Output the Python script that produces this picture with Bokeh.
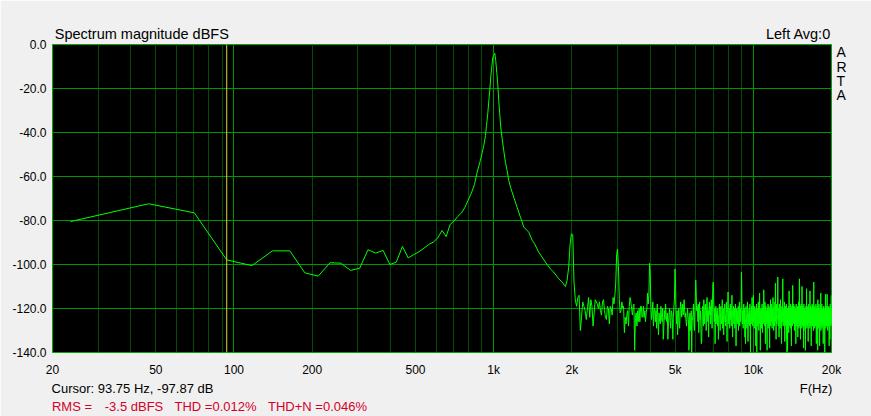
from bokeh.plotting import figure
from bokeh.models import (FixedTicker, Grid, Span, NumeralTickFormatter, LinearAxis,
                          Range1d, LinearScale, CustomJSTickFormatter, ColumnDataSource)
from bokeh.embed import file_html
from bokeh.resources import INLINE

# ---------------- data ----------------
# low / mid part of the spectrum (Hz, dBFS)
main_freq = [23.44, 46.88, 70.31, 93.75, 117.19, 140.63, 164.06, 187.5, 210.94, 234.38,
             257.81, 281.25, 304.69, 328.13, 351.56, 375.0, 398.44, 421.88, 445.31, 468.75,
             492.19, 515.63, 539.06, 562.5, 585.94, 609.38, 632.81, 656.25, 679.69, 703.13,
             726.56, 750.0, 773.44, 796.88, 820.31, 843.75,
             864, 889, 903, 916, 930, 938.5, 949, 957, 966, 974.6,
             983.4, 992, 1001, 1010, 1018.6, 1027.7, 1036.9, 1046, 1055.5, 1064.7,
             1078, 1093.5, 1110, 1127, 1143, 1160.6, 1195, 1231, 1268, 1306,
             1365, 1407, 1436, 1491, 1582, 1654, 1704, 1781, 1835, 1890,
             1917, 1945, 1969, 1992, 2016]
main_db = [-80.5, -72.4, -76.5, -97.9, -100.5, -93.8, -93.8, -103.8, -105.3, -99.2,
           -99.4, -102.7, -101.7, -93.3, -94.8, -93.6, -100.0, -98.9, -91.8, -97.0,
           -95.5, -94.2, -92.6, -90.9, -89.8, -87.9, -84.5, -87.3, -81.8, -80.3,
           -78.2, -76.7, -74.2, -70.9, -67.6, -63.6,
           -58, -52.7, -49.2, -45.9, -41.4, -36.8, -31.5, -26.2, -20.9, -14.8,
           -10.3, -5.8, -5.0, -4.0, -7.3, -12.6, -17.9, -25.5, -31.5, -37.6,
           -42.8, -48.2, -53.5, -57.3, -61.8, -64.8, -69.4, -74, -78.5, -83,
           -85.3, -89, -90.5, -94.4, -98.9, -102, -103.5, -106.5, -108, -110,
           -107.3, -101.2, -91, -86, -86.5]

# FFT bins above 2 kHz (noise floor with harmonics)
bin_hz = 23.4375
noise_first_bin = 87
noise_db = [
    -108, -116, -119,
    -115, -114, -130, -124, -117, -119, -121, -125, -120, -115,   # 90
    -124, -116, -119, -128, -122, -116, -117, -118, -120, -117,   # 100
    -121, -123, -117, -116, -121, -124, -125, -119, -120, -127,   # 110
    -119, -120, -123, -115, -118, -114, -108, -95, -93, -101,     # 120
    -116, -122, -121, -117, -120, -119, -131, -124, -127, -123,   # 130
    -121, -128, -119, -115, -117, -120, -123, -119, -118, -139,   # 140
    -124, -122, -128, -121, -126, -120, -126, -119, -119, -124,   # 150
    -123, -119, -124, -121, -126, -122, -120, -113, -118, -114,   # 160
    -99.5, -104, -119, -125, -122, -117, -128, -121, -120, -126,  # 170
    -121, -129, -118, -124, -132, -122, -126, -127, -119, -124,   # 180
    -126, -120, -134, -128, -121, -125, -118, -123, -126, -122,   # 190
    -134, -127, -123, -120, -126, -129, -121, -122, -125, -134,   # 200
    -124, -119, -116, -102, -108, -122, -127, -121, -132, -125,   # 210
    -120, -127, -129, -121, -117, -119, -124, -121, -118, -123,   # 220
    -119, -116, -121, -124, -122, -126, -128, -124, -120, -123,   # 230
    -125, -139, -131, -122, -128, -130, -121, -140, -126, -124,   # 240
    -123, -118, -127, -130, -121, -115, -107, -112, -121, -119,   # 250
    -120, -126, -118, -131, -122, -117, -125, -121, -129, -136,   # 260
    -135, -123, -119, -124, -128, -116, -121, -127, -120, -118,   # 270
    -124, -130, -119, -115, -122, -126, -121, -133, -120, -117,   # 280
    -123, -119, -127, -121, -116, -124, -129, -118, -109, -108,   # 290
    -113, -122, -126, -120, -136, -124, -119, -127, -122, -125,   # 300
    -120, -128, -123, -134, -126, -121, -118, -125, -130, -122,   # 310
    -119, -124, -127, -121, -116, -129, -123, -120, -132, -125,   # 320
    -121, -118, -126, -123, -128, -120, -117, -124, -135, -122,   # 330
    -119, -112.5, -121, -127, -124, -120, -129, -123, -118, -125, # 340
    -122, -128, -120, -114, -126, -133, -121, -124, -119, -127,   # 350
    -123, -120, -129, -125, -118, -122, -137, -124, -120, -126,   # 360
    -121, -127, -123, -119, -130, -125, -122, -117, -128, -124,   # 370
    -120, -126, -122, -118, -103.5, -109, -123, -127, -121, -125, # 380
    -129, -122, -118, -124, -127, -120, -133, -125, -136, -122,   # 390
    -119, -126, -123, -129, -121, -117, -125, -135, -122, -127,   # 400
    -124, -120, -128, -122, -118, -126, -140, -123, -121, -127,   # 410
    -119, -125, -115, -122, -128, -124, -120, -114, -126, -122,   # 420
    -129, -123, -119, -125, -121, -127, -137, -120, -124, -118,   # 430
    -140, -126, -122, -120, -128, -124, -117, -123, -130, -121,   # 440
    -125, -113, -127, -122, -139, -124, -120, -126, -121, -129,   # 450
    -123, -118, -125, -131, -120, -124, -127, -122, -111.5, -119, # 460
    -126, -121, -128, -117, -124, -136, -122, -119, -125, -127,   # 470
    -121, -124, -139, -120, -126, -123, -118, -129, -122, -125,   # 480
    -119, -127, -123, -138, -120, -125, -121, -116, -128, -124,   # 490
    -122, -118, -126, -121, -129, -124, -120, -127, -115, -123,   # 500
    -125, -130, -121, -119, -124, -128, -122, -117, -126, -108.5, # 510
    -120, -124, -134, -122, -118, -127, -123, -125, -119, -121,   # 520
    -105.7, -122, -128, -124, -120, -126, -133, -121, -118, -125, # 530
    -123, -129, -120, -116, -125, -122, -127, -121, -136, -124,   # 540
    -119, -126, -122, -118, -106.5, -123, -128, -121, -125, -120, # 550
    -127, -122, -117, -124, -135, -121, -126, -119, -123, -128,   # 560
    -121, -125, -118, -134, -122, -140, -124, -120, -139, -126,   # 570
    -122, -127, -119, -124, -131, -121, -112, -125, -128, -123,   # 580
    -120, -126, -122, -129, -118, -124, -121, -127, -137, -120,   # 590
    -125, -119, -123, -128, -121, -109.5, -124, -120, -126, -122, # 600
    -118, -127, -123, -121, -130, -125, -119, -124, -128, -122,   # 610
    -120, -126, -136, -123, -118, -125, -122, -128, -121, -124,   # 620
    -127, -119, -123, -133, -121, -126, -120, -124, -117, -129,   # 630
    -123, -121, -106.5, -125, -128, -120, -124, -122, -134, -119, # 640
    -126, -123, -118, -127, -121, -125, -129, -110, -122, -124,   # 650
    -120, -128, -123, -119, -126, -121, -138, -124, -118, -127,   # 660
    -122, -125, -120, -128, -124, -130, -121, -139, -123, -126,   # 670
    -119, -124, -127, -121, -111, -125, -129, -122, -126, -120,   # 680
    -128, -123, -119, -125, -135, -121, -124, -118, -127, -122,   # 690
    -125, -120, -126, -122, -129, -112, -124, -121, -128, -123,   # 700
    -119, -126, -122, -137, -124, -120, -127, -121, -125, -118,   # 710
    -123, -128, -121, -125, -119, -126, -122, -130, -124, -108,   # 720
    -121, -127, -123, -119, -125, -129, -122, -126, -120, -124,   # 730
    -128, -121, -125, -118, -127, -123, -136, -120, -124, -126,   # 740
    -122, -128, -119, -125, -121, -139, -116, -124, -127, -120,   # 750
    -126, -122, -129, -123, -118, -125, -121, -127, -137, -124,   # 760
    -120, -126, -123, -128, -121, -125, -113, -130, -124, -122,   # 770
    -127, -121, -125, -118, -129, -123, -126, -120, -124, -128,   # 780
    -122, -126, -121, -136, -124, -119, -127, -123, -125, -120,   # 790
    -126, -122, -128, -124, -140, -121, -125, -119, -127, -113.5, # 800
    -123, -129, -121, -125, -120, -126, -122, -128, -124, -119,   # 810
    -125, -113.5, -127, -121, -124, -130, -122, -126, -120, -124, # 820
    -128, -121, -125, -119, -127, -123, -137, -122, -126, -120,   # 830
    -124, -134, -121, -125, -118, -127, -123, -126, -122, -128,   # 840
    -121, -125, -114, -127, -123, -126, -120, -124, -128, -122,   # 850
]

x_tick_values = [20, 50, 100, 200, 500, 1000, 2000, 5000, 10000, 20000]
y_tick_values = [-140, -120, -100, -80, -60, -40, -20, 0]
decade_lines = [100, 1000, 10000]
minor_lines = [30, 40, 50, 60, 70, 80, 90,
               200, 300, 400, 500, 600, 700, 800, 900,
               2000, 3000, 4000, 5000, 6000, 7000, 8000, 9000]
cursor_hz = 93.75

top_texts = ["Spectrum magnitude dBFS", "Left  Avg:0"]
info_texts = ["Cursor: 93.75 Hz, -97.87 dB", "F(Hz)"]
rms_texts = ["RMS =", "-3.5 dBFS", "THD =0.012%", "THD+N =0.046%"]
brand = ["A", "R", "T", "A"]

# ---------------- build ----------------
noise_freq = [bin_hz * (noise_first_bin + i) for i in range(len(noise_db))]
freq = main_freq + noise_freq
db = main_db + noise_db
src = ColumnDataSource(dict(f=freq, db=db))

FONT = "Liberation Sans"
BG = "#f0f0f0"
GRID_MAJOR = "#009600"
GRID_MINOR = "#004c00"
W, H = 871, 416
FW, FH = 779, 308   # plot frame size in px

p = figure(width=W, height=H, x_axis_type="log",
           x_range=(20, 20000), y_range=(-140, 0),
           output_backend="svg", toolbar_location=None,
           min_border_left=52, min_border_right=40,
           min_border_top=44, min_border_bottom=64)
p.background_fill_color = "black"
p.border_fill_color = BG
p.outline_line_color = "#00a800"
p.outline_line_width = 1

p.xgrid.grid_line_color = None
p.ygrid.grid_line_color = None
p.add_layout(Grid(dimension=0, ticker=FixedTicker(ticks=minor_lines),
                  grid_line_color=GRID_MINOR, grid_line_width=1))
p.add_layout(Grid(dimension=0, ticker=FixedTicker(ticks=decade_lines),
                  grid_line_color=GRID_MAJOR, grid_line_width=1))
p.add_layout(Grid(dimension=1, ticker=FixedTicker(ticks=y_tick_values[1:-1]),
                  grid_line_color=GRID_MAJOR, grid_line_width=1))


def plain(ax, size="12px", color="#000000", standoff=6):
    ax.axis_line_color = None
    ax.major_tick_line_color = None
    ax.minor_tick_line_color = None
    ax.major_tick_out = 0
    ax.major_tick_in = 0
    ax.minor_tick_out = 0
    ax.minor_tick_in = 0
    ax.major_label_text_font = FONT
    ax.major_label_text_font_size = size
    ax.major_label_text_color = color
    ax.major_label_standoff = standoff


xa = p.xaxis[0]
ya = p.yaxis[0]
plain(xa, standoff=10)
plain(ya, standoff=6)
xa.ticker = FixedTicker(ticks=x_tick_values, minor_ticks=[])
xa.formatter = CustomJSTickFormatter(
    code="return tick >= 1000 ? (tick/1000) + 'k' : String(tick);")
ya.ticker = FixedTicker(ticks=y_tick_values, minor_ticks=[])
ya.formatter = NumeralTickFormatter(format="0.0")

p.line("f", "db", source=src, line_color="#00ff00", line_width=1)
p.add_layout(Span(location=cursor_hz, dimension="height",
                  line_color="#d8d838", line_width=1))

# text rows placed as tick labels of auxiliary pixel-unit (linear) axes
p.extra_x_ranges = {"px": Range1d(0, FW)}
p.extra_x_scales = {"px": LinearScale()}
p.extra_y_ranges = {"py": Range1d(0, FH)}
p.extra_y_scales = {"py": LinearScale()}


def text_axis(side, texts, centers, size, color, standoff):
    if side in ("above", "below"):
        ax = LinearAxis(x_range_name="px")
    else:
        ax = LinearAxis(y_range_name="py")
    ax.ticker = FixedTicker(ticks=centers, minor_ticks=[])
    ax.major_label_overrides = {c: t for c, t in zip(centers, texts)}
    plain(ax, size=size, color=color, standoff=standoff)
    p.add_layout(ax, side)
    return ax


text_axis("above", top_texts, [89.3, 748], "14.5px", "#000000", 3)
text_axis("right", brand, [300.5, 286, 272, 257.5], "14px", "#000000", 5)
text_axis("below", info_texts, [80, 763.5], "13px", "#000000", 1)
text_axis("below", rms_texts, [19.5, 81.5, 163, 265], "13px", "#d4002a", 0)

html = file_html(p, INLINE, title="Spectrum")
html = html.replace("<body>", '<body style="background:#f0f0f0">', 1)
open("out.html", "w").write(html)
